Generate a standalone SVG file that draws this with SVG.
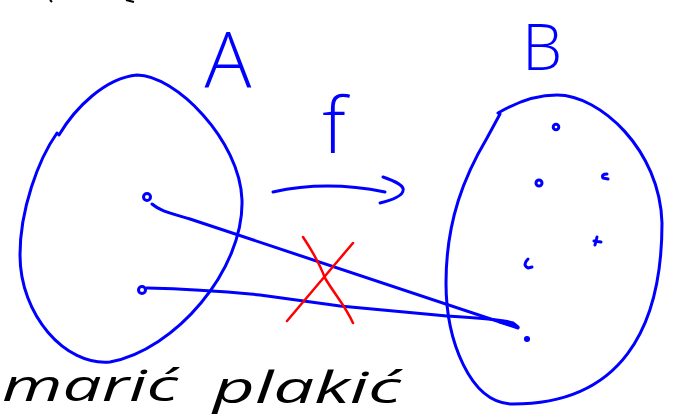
<svg xmlns="http://www.w3.org/2000/svg" width="684" height="417" viewBox="0 0 684 417">
<style>
.ink{fill:none;stroke:#0000ff;stroke-width:3;stroke-linecap:round;stroke-linejoin:round}
.dot{fill:none;stroke:#0000ff;stroke-width:3}
.fdot{fill:#0000ff;stroke:#0000ff;stroke-width:1.5}
.red{fill:none;stroke:#ff0000;stroke-width:2.5;stroke-linecap:round}
.lbl{font-family:"Open Sans","DejaVu Sans",sans-serif;font-weight:300;fill:#0000ff;text-anchor:middle}
.hand{font-family:"Open Sans","DejaVu Sans",sans-serif;font-style:italic;fill:#000}
</style>
<rect width="684" height="417" fill="#fff"/>
<g id="setA">
<path class="ink" d="M59,135 C75,108 105,78 137,75 C175,75 240,140 242,200 C244,270 175,350 110,362 C65,366 20,315 20,255 C20,210 38,160 57,133"/>
<circle class="dot" cx="147" cy="197" r="3.5"/>
<circle class="dot" cx="142" cy="290" r="3.5"/>
</g>
<g id="setB">
<path class="ink" d="M498,113 C520,100 540,95 557,95 C600,95 660,150 662,223 C662,330 620,404 513,404 C470,404 446,340 446,283 C446,220 465,175 487,138 L500,114"/>
<circle class="dot" cx="556" cy="127" r="2.8"/>
<circle class="dot" cx="539" cy="183" r="3"/>
<path class="ink" d="M607,174 Q601,174 603,178 L608,179"/>
<path class="ink" d="M597,237 L595,245 M594,241 L601,242"/>
<path class="ink" d="M528,259 Q522,265 528,268 L532,267"/>
<circle class="fdot" cx="527" cy="339" r="2.3"/>
</g>
<g id="labelA"><text class="lbl" x="228" y="88" font-size="78">A</text></g>
<g id="labelB"><text class="lbl" x="542" y="70" font-size="64">B</text></g>
<g id="labelF"><text class="lbl" x="334" y="153" font-size="78">f</text></g>
<g id="connectors">
<path class="ink" d="M152,204 C160,211 170,213 190,219 L518,328"/>
<path class="ink" d="M147,288 C200,289 230,292 260,295 L340,306 L447,316 C480,318 505,320 513,323 L518,327 L500,322"/>
<path class="ink" d="M273,192 C300,186 340,183 385,192"/>
<path class="ink" d="M383,177 C395,181 405,186 403,191 C402,196 392,200 380,203"/>
</g>
<g id="cross">
<path class="red" d="M303,237 C315,255 322,270 325,278 C335,295 345,305 353,323"/>
<path class="red" d="M353,243 C330,270 305,300 287,321"/>
</g>
<g id="caption">
<text class="hand" x="2" y="401" font-size="44" textLength="176" lengthAdjust="spacingAndGlyphs">marić</text>
<text class="hand" x="213" y="403" font-size="44" textLength="188" lengthAdjust="spacingAndGlyphs">plakić</text>
</g>
<g id="marks">
<path d="M50,0 L52,2 M126,0 L134,2" stroke="#000" stroke-width="2" fill="none"/>
</g>
</svg>
